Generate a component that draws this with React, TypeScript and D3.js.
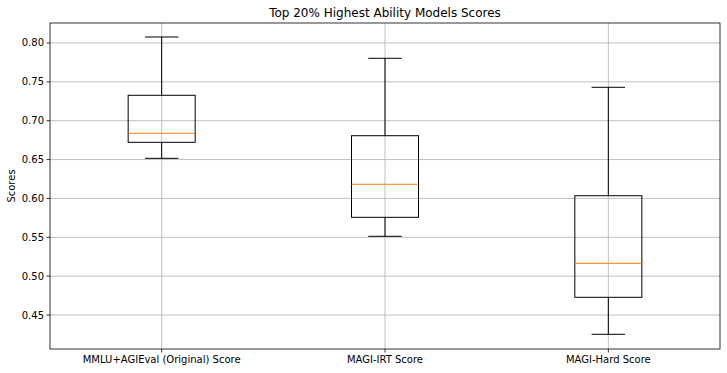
import React from "react";
import * as d3 from "d3";

const categories = ["MMLU+AGIEval (Original) Score", "MAGI-IRT Score", "MAGI-Hard Score"];
const whiskerLow = [0.6516, 0.5513, 0.4252];
const q1 = [0.6722, 0.5757, 0.4728];
const medians = [0.6838, 0.6182, 0.5165];
const q3 = [0.7327, 0.6807, 0.6035];
const whiskerHigh = [0.8077, 0.7803, 0.743];
const yTicks = [0.45, 0.5, 0.55, 0.6, 0.65, 0.7, 0.75, 0.8];

const W = 727, H = 373;
const M = { left: 50, right: 720, top: 23, bottom: 349 };
const font = "DejaVu Sans, sans-serif";

export default function App() {
  const x = d3.scaleLinear().domain([0.5, 3.5]).range([M.left, M.right]);
  const y = d3.scaleLinear().domain([0.4063, 0.8257]).range([M.bottom, M.top]);
  const bw = 0.15, cw = 0.075;
  return (
    <svg width={W} height={H} style={{ position: "absolute", left: 0, top: 0 }}>
      <rect x={0} y={0} width={W} height={H} fill="#fff" />
      {yTicks.map((t) => (
        <g key={t}>
          <line x1={M.left} x2={M.right} y1={y(t)} y2={y(t)} stroke="#b0b0b0" strokeWidth={0.8} />
          <line x1={M.left - 3.5} x2={M.left} y1={y(t)} y2={y(t)} stroke="#000" strokeWidth={0.8} />
          <text x={M.left - 6} y={y(t)} dy="0.35em" textAnchor="end" fontSize={10} fontFamily={font}>{t.toFixed(2)}</text>
        </g>
      ))}
      {categories.map((c, i) => (
        <g key={c}>
          <line x1={x(i + 1)} x2={x(i + 1)} y1={M.top} y2={M.bottom} stroke="#b0b0b0" strokeWidth={0.8} />
          <line x1={x(i + 1)} x2={x(i + 1)} y1={M.bottom} y2={M.bottom + 3.5} stroke="#000" strokeWidth={0.8} />
          <text x={x(i + 1)} y={M.bottom + 14} textAnchor="middle" fontSize={10} fontFamily={font}>{c}</text>
        </g>
      ))}
      {categories.map((c, i) => {
        const p = i + 1;
        return (
          <g key={"b" + c} fill="none" stroke="#000" strokeWidth={1}>
            <line x1={x(p)} x2={x(p)} y1={y(whiskerHigh[i])} y2={y(q3[i])} />
            <line x1={x(p)} x2={x(p)} y1={y(q1[i])} y2={y(whiskerLow[i])} />
            <line x1={x(p - cw)} x2={x(p + cw)} y1={y(whiskerHigh[i])} y2={y(whiskerHigh[i])} />
            <line x1={x(p - cw)} x2={x(p + cw)} y1={y(whiskerLow[i])} y2={y(whiskerLow[i])} />
            <rect x={x(p - bw)} y={y(q3[i])} width={x(p + bw) - x(p - bw)} height={y(q1[i]) - y(q3[i])} />
            <line x1={x(p - bw)} x2={x(p + bw)} y1={y(medians[i])} y2={y(medians[i])} stroke="#ff7f0e" />
          </g>
        );
      })}
      <rect x={M.left} y={M.top} width={M.right - M.left} height={M.bottom - M.top} fill="none" stroke="#000" strokeWidth={0.8} />
      <text x={(M.left + M.right) / 2} y={M.top - 6} textAnchor="middle" fontSize={12} fontFamily={font}>Top 20% Highest Ability Models Scores</text>
      <text transform={`translate(15,${(M.top + M.bottom) / 2}) rotate(-90)`} textAnchor="middle" fontSize={10} fontFamily={font}>Scores</text>
    </svg>
  );
}
